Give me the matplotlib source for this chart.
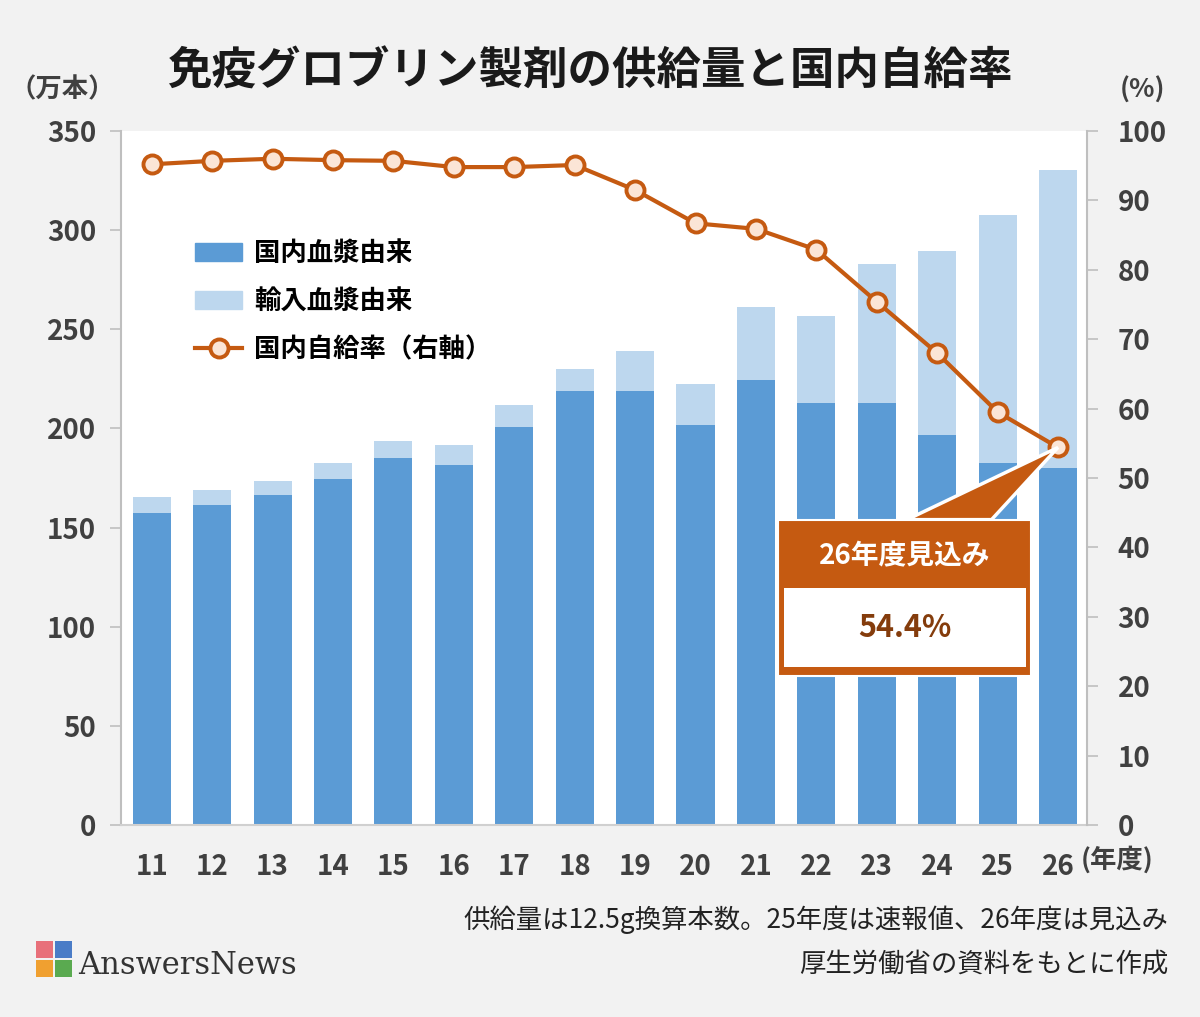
import matplotlib
matplotlib.use("Agg")
import matplotlib.pyplot as plt
from matplotlib.patches import Rectangle, Polygon
from matplotlib.lines import Line2D

plt.rcParams['font.family'] = ['Noto Sans CJK JP', 'DejaVu Sans']

# data
years = ['11', '12', '13', '14', '15', '16', '17', '18', '19', '20', '21', '22', '23', '24', '25', '26']
domestic = [157.3, 161.4, 166.4, 174.5, 185.1, 181.5, 200.7, 218.9, 218.9, 201.7, 224.4, 212.8, 212.8, 196.7, 182.5, 180.0]
total = [165.4, 168.9, 173.5, 182.5, 193.6, 191.6, 211.8, 229.9, 239.0, 222.4, 261.2, 256.7, 282.9, 289.5, 307.6, 330.3]
imported = [t - d for t, d in zip(total, domestic)]
self_rate = [95.2, 95.7, 96.0, 95.8, 95.7, 94.8, 94.8, 95.1, 91.5, 86.7, 85.9, 82.9, 75.4, 68.0, 59.5, 54.4]
left_ticks = [0, 50, 100, 150, 200, 250, 300, 350]
right_ticks = [0, 10, 20, 30, 40, 50, 60, 70, 80, 90, 100]

c_dom = '#5b9bd5'
c_imp = '#bdd7ee'
c_line = '#c55a11'
c_mark = '#fbe5d6'
c_tick = '#404040'
bg = '#f2f2f2'

fig = plt.figure(figsize=(12, 10.17), dpi=100, facecolor=bg)
ax = fig.add_axes([121/1200, 1 - 825/1017, (1087 - 121)/1200, (825 - 131)/1017])
ax.set_facecolor('white')

x = list(range(len(years)))
ax.bar(x, domestic, width=0.63, color=c_dom, zorder=2)
ax.bar(x, imported, bottom=domestic, width=0.63, color=c_imp, zorder=2)
ax.set_xlim(-0.51, 15.48)
ax.set_ylim(0, 350)
ax.set_yticks(left_ticks)
ax.set_xticks(x)
ax.set_xticklabels(years)

for s in ['top', 'right']:
    ax.spines[s].set_visible(False)
ax.spines['left'].set_color('#bfbfbf')
ax.spines['left'].set_linewidth(1.5)
ax.spines['bottom'].set_color('#d0d0d0')
ax.spines['bottom'].set_linewidth(1.5)
ax.tick_params(axis='y', length=8, width=1.2, color='#bfbfbf', pad=10,
               labelsize=20, labelcolor=c_tick)
ax.tick_params(axis='x', length=0, pad=20, labelsize=20, labelcolor=c_tick)
for lab in ax.get_yticklabels() + ax.get_xticklabels():
    lab.set_fontweight('bold')

ax2 = ax.twinx()
ax2.set_ylim(0, 100)
ax2.set_yticks(right_ticks)
for s in ['top', 'left', 'bottom']:
    ax2.spines[s].set_visible(False)
ax2.spines['right'].set_color('#bfbfbf')
ax2.spines['right'].set_linewidth(1.5)
ax2.tick_params(axis='y', length=8, width=1.2, color='#bfbfbf', pad=14,
                labelsize=20, labelcolor=c_tick)
for lab in ax2.get_yticklabels():
    lab.set_fontweight('bold')

ax2.plot(x, self_rate, color=c_line, lw=3, marker='o', ms=13,
         mfc=c_mark, mec=c_line, mew=2.8, zorder=5)

# callout for the last point
ax2.add_patch(Polygon([(12.5, 44.0), (15.0, self_rate[-1]), (13.9, 44.0)],
                      closed=True, facecolor=c_line, edgecolor='white', lw=2.5, zorder=6))
ax2.add_patch(Rectangle((10.37, 21.5), 4.19, 22.5, facecolor=c_line,
                        edgecolor='white', lw=1.5, zorder=7))
ax2.add_patch(Rectangle((10.46, 22.8), 4.01, 11.3, facecolor='white',
                        edgecolor='none', zorder=8))
ax2.text(12.46, 38.7, '26年度見込み', ha='center', va='center', fontsize=20,
         fontweight='bold', color='white', zorder=9)
ax2.text(12.46, 28.4, '54.4%', ha='center', va='center', fontsize=22,
         fontweight='bold', color='#843c0c', zorder=9)

# legend
handles = [Rectangle((0, 0), 1, 1, color=c_dom),
           Rectangle((0, 0), 1, 1, color=c_imp),
           Line2D([], [], color=c_line, lw=3, marker='o', ms=13, mfc=c_mark,
                  mec=c_line, mew=2.8)]
leg = ax.legend(handles, ['国内血漿由来', '輸入血漿由来', '国内自給率（右軸）'],
                loc='upper left', bbox_to_anchor=(0.052, 0.877), frameon=False,
                prop={'size': 19, 'weight': 'bold'}, handlelength=1.8,
                handleheight=0.7, labelspacing=0.8, handletextpad=0.45)

# titles and labels
fig.text(590/1200, 1 - 72/1017, '免疫グロブリン製剤の供給量と国内自給率', ha='center',
         va='center', fontsize=32, fontweight='bold', color='#1a1a1a')
fig.text(62/1200, 1 - 90/1017, '（万本）', ha='center', va='center',
         fontsize=19, fontweight='bold', color=c_tick)
fig.text(1142/1200, 1 - 90/1017, '(%)', ha='center', va='center',
         fontsize=19, fontweight='bold', color=c_tick)
fig.text(1117/1200, 1 - 860/1017, '(年度)', ha='center', va='center',
         fontsize=19, fontweight='bold', color=c_tick)
fig.text(1168/1200, 1 - 920/1017, '供給量は12.5g換算本数。25年度は速報値、26年度は見込み',
         ha='right', va='center', fontsize=19, color='#222222')
fig.text(1168/1200, 1 - 964/1017, '厚生労働省の資料をもとに作成',
         ha='right', va='center', fontsize=19, color='#222222')

# logo
fig.text(78/1200, 1 - 965/1017, 'AnswersNews', ha='left', va='center',
         fontsize=22, family='DejaVu Serif', color='#333333')
logo_cols = ['#e8707a', '#4a7cc7', '#f0a030', '#5aaa50']
for i, (dx, dy) in enumerate([(0, 1), (1, 1), (0, 0), (1, 0)]):
    fig.patches.append(Rectangle(((36 + dx * 19)/1200, 1 - (977 - dy * 19)/1017),
                                 17/1200, 17/1017, transform=fig.transFigure,
                                 facecolor=logo_cols[i], edgecolor='none'))

fig.savefig('out.png', dpi=100, facecolor=bg)
